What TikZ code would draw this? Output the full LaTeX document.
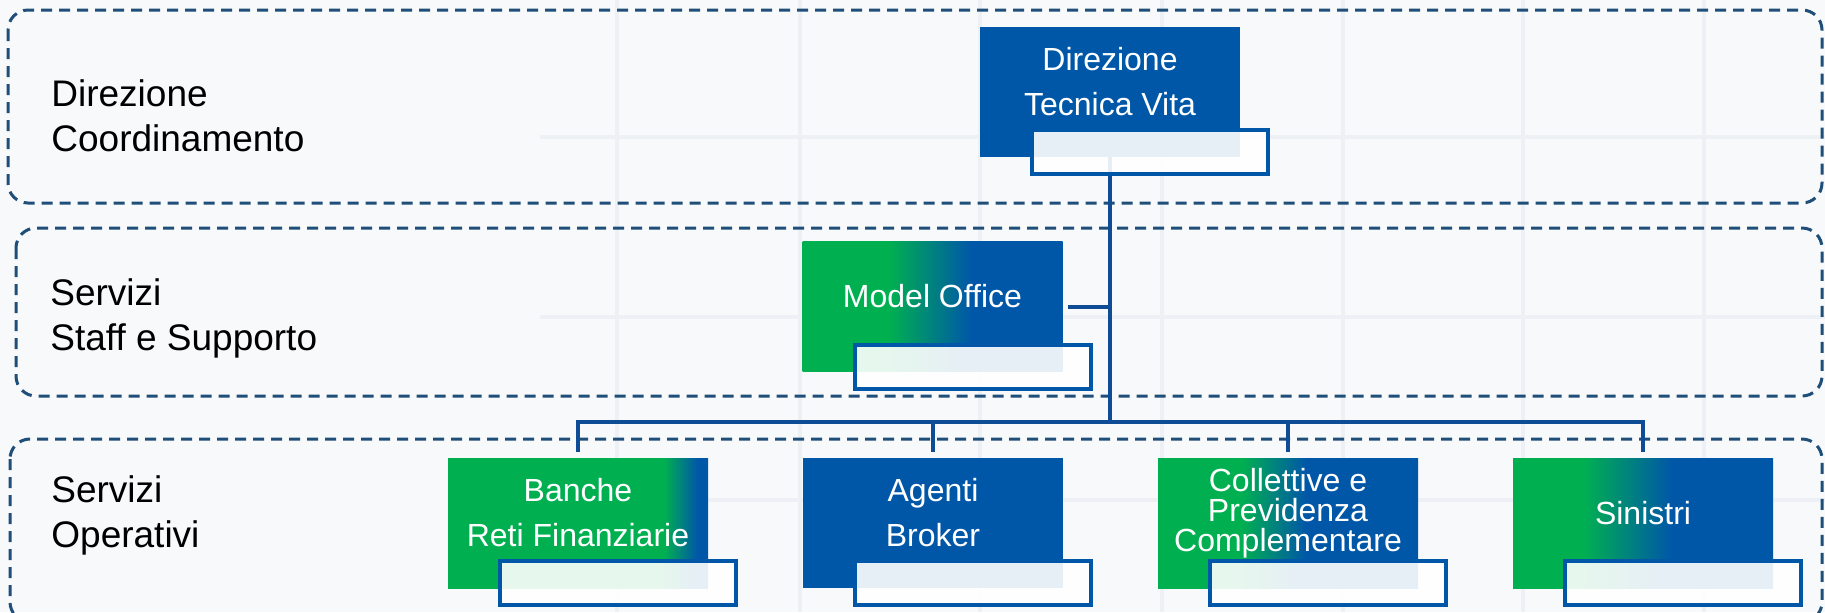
\documentclass[tikz,border=0pt]{standalone}
\usepackage{fontspec}
\setmainfont{Liberation Sans}
\usetikzlibrary{positioning}

\definecolor{boxblue}{HTML}{0057A8}
\definecolor{boxgreen}{HTML}{00B050}
\definecolor{linkblue}{HTML}{0F4C96}
\definecolor{bandblue}{HTML}{1F4E79}
\definecolor{paper}{HTML}{F8F9FA}
\definecolor{gridgray}{HTML}{EDF0F4}

% green to blue, the box spans 25bp..75bp of the shading
\pgfdeclarehorizontalshading{shadeMO}{100bp}{color(0bp)=(boxgreen); color(41.5bp)=(boxgreen); color(57.5bp)=(boxblue); color(100bp)=(boxblue)}
\pgfdeclarehorizontalshading{shadeBanche}{100bp}{color(0bp)=(boxgreen); color(66.5bp)=(boxgreen); color(73bp)=(boxblue); color(100bp)=(boxblue)}
\pgfdeclarehorizontalshading{shadeColl}{100bp}{color(0bp)=(boxgreen); color(41bp)=(boxgreen); color(53.5bp)=(boxblue); color(100bp)=(boxblue)}
\pgfdeclarehorizontalshading{shadeSin}{100bp}{color(0bp)=(boxgreen); color(38.5bp)=(boxgreen); color(55.5bp)=(boxblue); color(100bp)=(boxblue)}

\tikzset{
  band/.style={draw=bandblue, line width=1.5pt, dash pattern=on 5.5pt off 3.5pt, rounded corners=10pt},
  bandlabel/.style={anchor=base west, align=left, inner sep=0pt, font=\fontsize{18.5}{22.5}\selectfont},
  unit/.style={fill=boxblue, minimum width=130pt, minimum height=65pt, inner sep=0pt},
  unittext/.style={text=white, align=center, inner sep=0pt, font=\fontsize{16}{22.5}\selectfont},
  subbox/.style={draw=boxblue, line width=2pt, fill=white, fill opacity=0.9, minimum width=118pt, minimum height=22pt, inner sep=0pt},
  link/.style={draw=linkblue, line width=2pt},
  gridline/.style={draw=gridgray, line width=1.6pt}
}

\begin{document}
\begin{tikzpicture}[x=0.5pt, y=-0.5pt]
  \useasboundingbox (0,0) rectangle (1825,612);
  \fill[paper] (0,0) rectangle (1825,612);
  \foreach \gx in {617,800,980,1162,1343,1523,1704}
    \draw[gridline] (\gx,0) -- (\gx,612);
  \foreach \gy in {137,317,500}
    \draw[gridline] (540,\gy) -- (1825,\gy);

  % levels
  \draw[band] (8,10) rectangle (1822,203);
  \draw[band] (16,228) rectangle (1822,396);
  \draw[band] (10,439) rectangle (1822,622);
  \node[bandlabel] (lvl1) at (51,151) {Direzione\\Coordinamento};
  \node[bandlabel] (lvl2) at (50,350) {Servizi\\Staff e Supporto};
  \node[bandlabel] (lvl3) at (51,547) {Servizi\\Operativi};

  % units
  \node[unit] (dtv) at (1110,92) {};
  \node[unit, shading=shadeMO] (mo) at (932.5,306.5) {};
  \node[unit, shading=shadeBanche] (banche) at (578,523) {};
  \node[unit] (agenti) at (933,523) {};
  \node[unit, shading=shadeColl] (collettive) at (1288,523) {};
  \node[unit, shading=shadeSin] (sinistri) at (1643,523) {};

  % connectors
  \coordinate (bus) at (1110,422);
  \draw[link] (dtv.south) -- (bus);
  \draw[link, shorten <=2.5pt] (mo.east) -- (mo.east -| dtv.south);
  \draw[link, shorten <=3pt, shorten >=3pt] (banche.north) |- (bus) -| (sinistri.north);
  \foreach \u in {agenti,collettive}
    \draw[link, shorten >=3pt] (\u.north |- bus) -- (\u.north);

  \foreach \u in {dtv,mo,banche,agenti,collettive,sinistri}
    \node[subbox] (\u-sub) at ([xshift=20pt,yshift=-30pt]\u.center) {};

  \node[unittext] (dtv-t) at ([yshift=5pt]dtv.center) {Direzione\\Tecnica Vita};
  \node[unittext] (mo-t) at ([yshift=5pt]mo.center) {Model Office};
  \node[unittext] (banche-t) at ([yshift=5pt]banche.center) {Banche\\Reti Finanziarie};
  \node[unittext] (agenti-t) at ([yshift=5pt]agenti.center) {Agenti\\Broker};
  \node[unittext, font=\fontsize{16}{15}\selectfont] (collettive-t) at ([yshift=5pt]collettive.center) {Collettive e\\Previdenza\\Complementare};
  \node[unittext] (sinistri-t) at ([yshift=5pt]sinistri.center) {Sinistri};
\end{tikzpicture}
\end{document}
